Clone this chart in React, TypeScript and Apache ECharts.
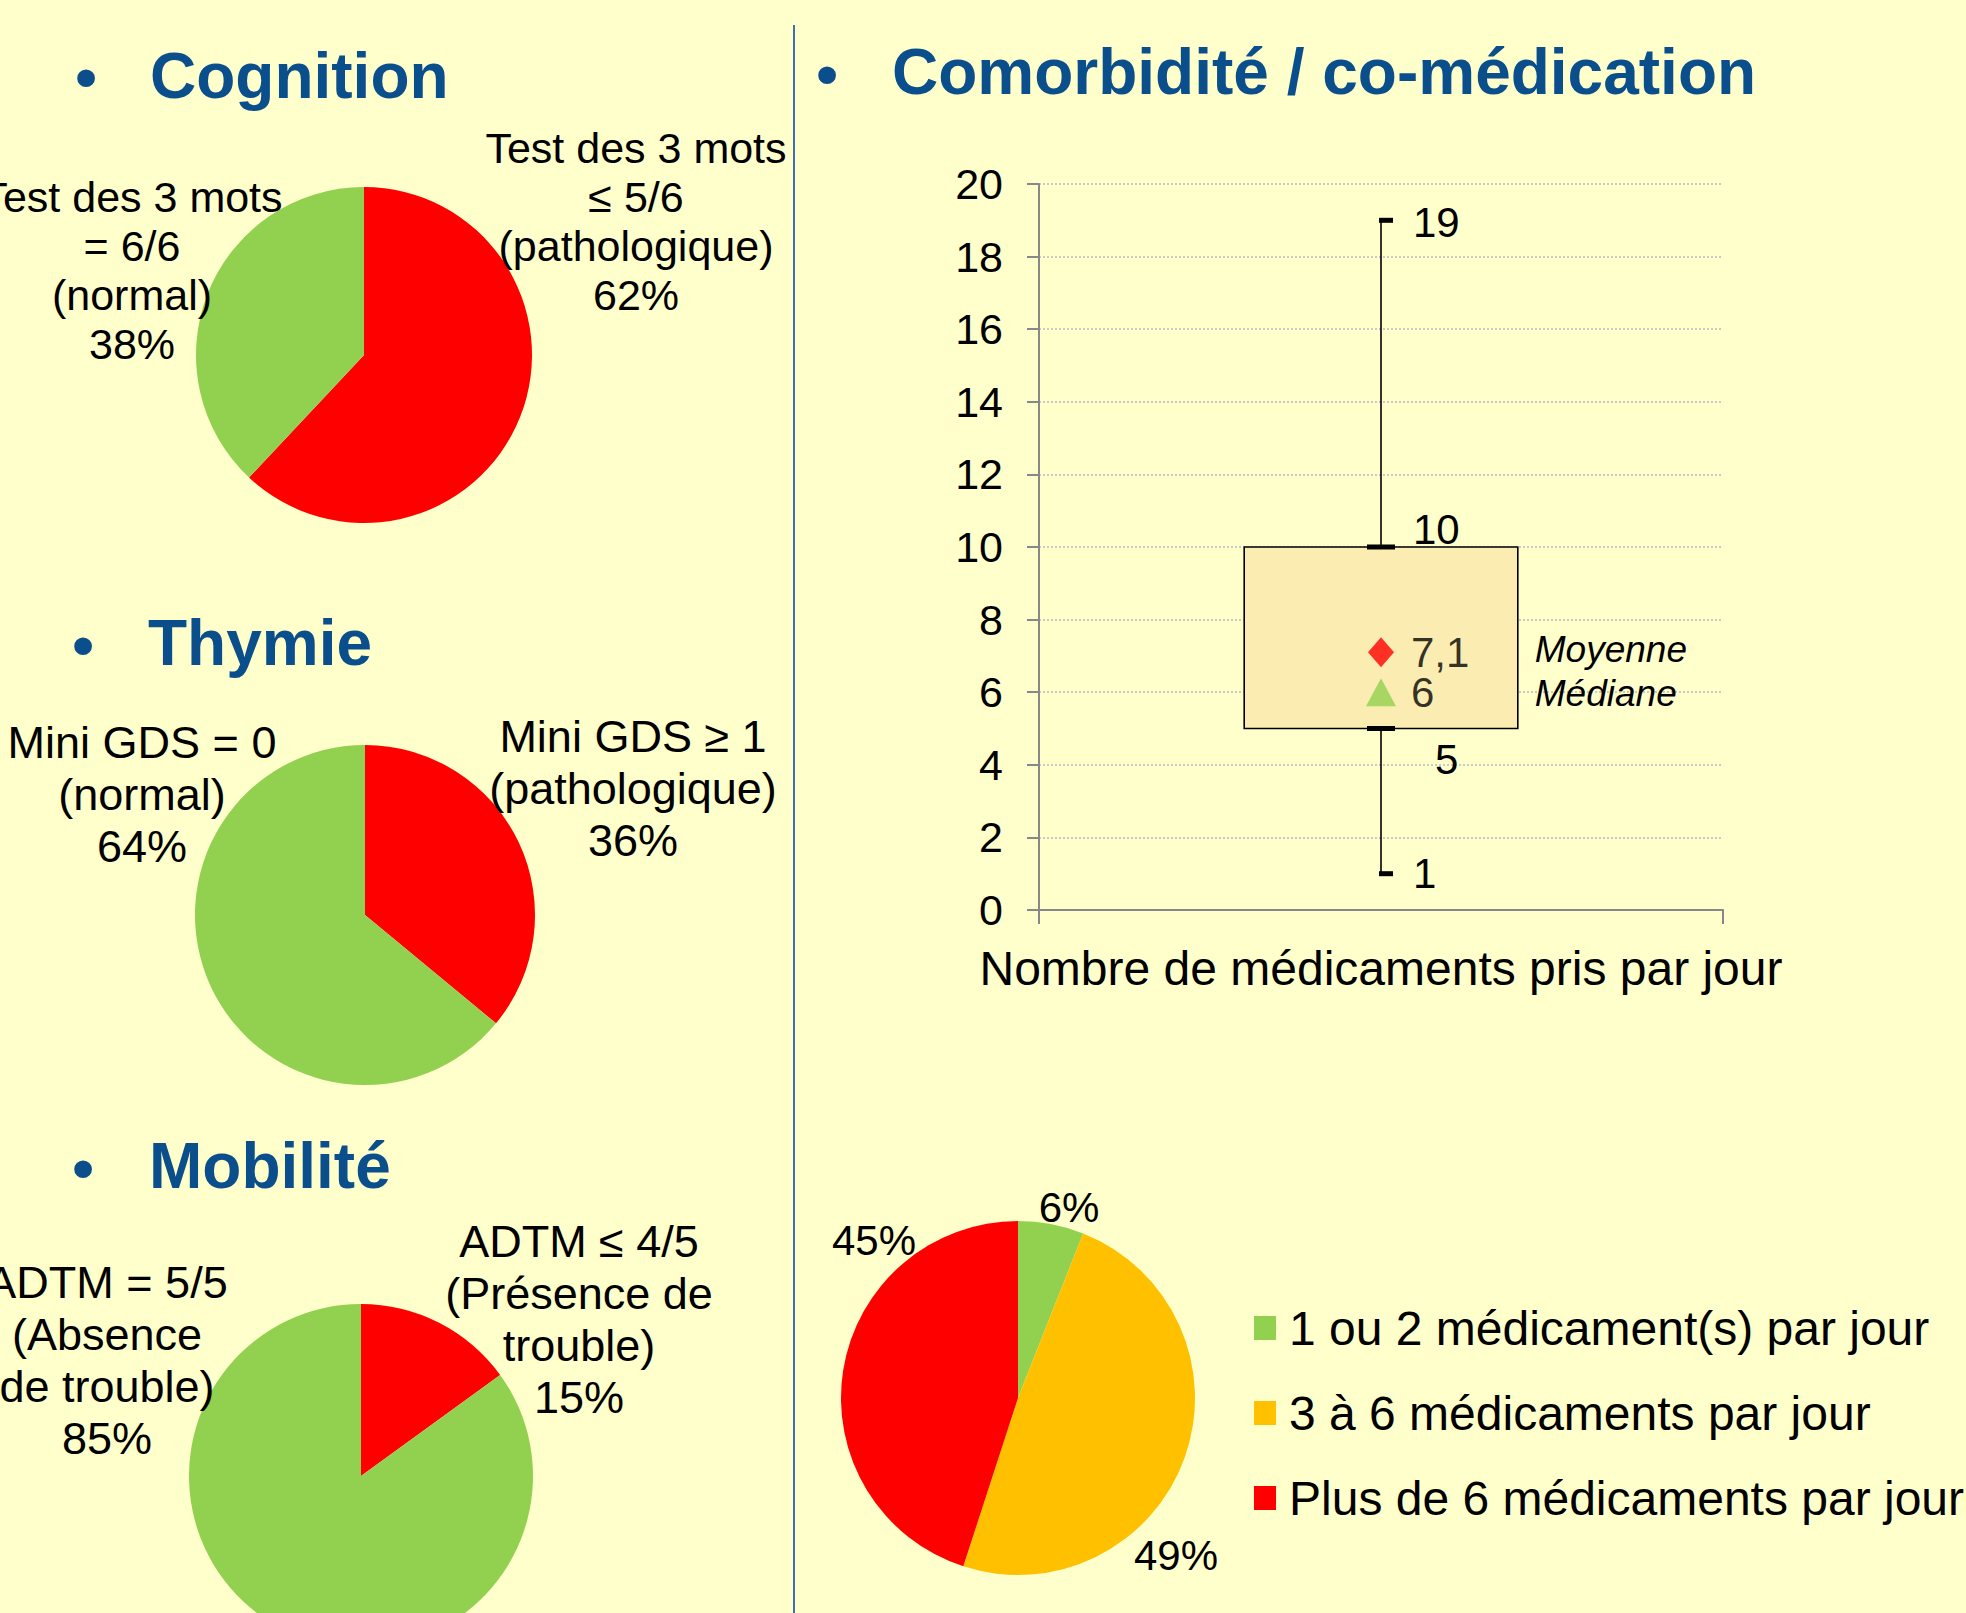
import React, { useEffect, useRef } from 'react';
import * as echarts from 'echarts';

const FONT = '"Liberation Sans", Arial, Helvetica, sans-serif';
const RED = '#FF0000';
const GREEN = '#92D050';
const ORANGE = '#FFC000';
const TITLE_BLUE = '#0A4E8C';

// ---- Data ----
const cognitionNames = ['Test des 3 mots\n≤ 5/6\n(pathologique)', 'Test des 3 mots\n= 6/6\n(normal)'];
const cognitionValues = [62, 38];
const thymieNames = ['Mini GDS ≥ 1\n(pathologique)', 'Mini GDS = 0\n(normal)'];
const thymieValues = [36, 64];
const mobiliteNames = ['ADTM ≤ 4/5\n(Présence de\ntrouble)', 'ADTM = 5/5\n(Absence\nde trouble)'];
const mobiliteValues = [15, 85];
const medNames = ['1 ou 2 médicament(s) par jour', '3 à 6 médicaments par jour', 'Plus de 6 médicaments par jour'];
const medValues = [6, 49, 45];

const boxCategory = ['Nombre de médicaments pris par jour'];
// min, Q1, median, Q3, max, mean
const boxStats = [1, 5, 6, 10, 19, 7.1];
const meanValue = 7.1;
const medianValue = 6;
const yMin = 0;
const yMax = 20;
const yInterval = 2;

const titles = ['Cognition', 'Thymie', 'Mobilité', 'Comorbidité / co-médication'];

// ---- Layout (pixels) ----
const titlePos = [
  [150, 76], [148, 643], [149, 1166], [892, 72],
];
const bulletPos = [
  [86, 76], [83, 644], [83, 1167], [827, 73],
];
const cognitionLabelPos = [[636, 221], [132, 270]];
const thymieLabelPos = [[633, 788], [142, 794]];
const mobiliteLabelPos = [[579, 1319], [107, 1360]];
const medLabelPos = [[1069, 1207], [1176, 1555], [874, 1240]];

const fmt = (v: number) => String(v).replace('.', ',');

function pieSeries(
  names: string[], values: number[], colors: string[], center: number[], radius: number,
  labelPos: number[][], fontSize: number, lineHeight: number, withName: boolean,
) {
  return {
    type: 'pie',
    center,
    radius,
    startAngle: 90,
    clockwise: true,
    avoidLabelOverlap: false,
    silent: true,
    data: names.map((n, i) => ({ name: n, value: values[i], itemStyle: { color: colors[i] } })),
    label: {
      show: true,
      position: 'outside',
      formatter: (p: any) => (withName ? `${p.name}\n${p.value}%` : `${p.value}%`),
      fontFamily: FONT,
      fontSize,
      lineHeight,
      color: '#000',
      align: 'center',
    },
    labelLine: { show: false },
    labelLayout: (p: any) => ({
      x: labelPos[p.dataIndex][0],
      y: labelPos[p.dataIndex][1],
      align: 'center',
      verticalAlign: 'middle',
    }),
    emphasis: { disabled: true },
  };
}

export default function App() {
  const ref = useRef<HTMLDivElement>(null);

  useEffect(() => {
    if (!ref.current) return;
    const chart = echarts.init(ref.current, null, { renderer: 'svg' });

    const graphics: any[] = [];
    graphics.push({
      type: 'line',
      shape: { x1: 794, y1: 25, x2: 794, y2: 1613 },
      style: { stroke: '#3F6FAE', lineWidth: 2 },
    });
    titles.forEach((t, i) => {
      graphics.push({
        type: 'text',
        x: bulletPos[i][0],
        y: bulletPos[i][1],
        style: {
          text: '•', fontFamily: FONT, fontSize: 62, fontWeight: 'bold', fill: TITLE_BLUE,
          align: 'center', verticalAlign: 'middle',
        },
      });
      graphics.push({
        type: 'text',
        x: titlePos[i][0],
        y: titlePos[i][1],
        style: {
          text: t, fontFamily: FONT, fontSize: 64, fontWeight: 'bold', fill: TITLE_BLUE,
          align: 'left', verticalAlign: 'middle',
        },
      });
    });

    const option: any = {
      animation: false,
      backgroundColor: '#FFFFCC',
      textStyle: { fontFamily: FONT },
      graphic: graphics,
      legend: {
        data: medNames,
        orient: 'vertical',
        left: 1249,
        top: 1298,
        itemWidth: 22,
        itemHeight: 24,
        itemGap: 35,
        icon: 'rect',
        selectedMode: false,
        textStyle: { fontFamily: FONT, fontSize: 48, color: '#000', lineHeight: 50, padding: [0, 0, 0, 8] },
      },
      grid: { left: 1039, top: 184, width: 684, height: 726, containLabel: false },
      xAxis: {
        type: 'category',
        data: boxCategory,
        boundaryGap: true,
        axisLine: { lineStyle: { color: '#888', width: 2 } },
        axisTick: { show: true, length: 14, lineStyle: { color: '#888', width: 2 } },
        axisLabel: { fontFamily: FONT, fontSize: 48, color: '#000', margin: 34 },
        splitLine: { show: false },
      },
      yAxis: {
        type: 'value',
        min: yMin,
        max: yMax,
        interval: yInterval,
        axisLine: { show: true, lineStyle: { color: '#888', width: 2 } },
        axisTick: { show: true, length: 12, lineStyle: { color: '#888', width: 2 } },
        axisLabel: { fontFamily: FONT, fontSize: 43, color: '#000', margin: 36 },
        splitLine: { show: true, lineStyle: { color: '#C9C9C9', type: 'dotted', width: 2 } },
      },
      series: [
        pieSeries(cognitionNames, cognitionValues, [RED, GREEN], [364, 355], 168, cognitionLabelPos, 43, 49, true),
        pieSeries(thymieNames, thymieValues, [RED, GREEN], [365, 915], 170, thymieLabelPos, 45, 52, true),
        pieSeries(mobiliteNames, mobiliteValues, [RED, GREEN], [361, 1476], 172, mobiliteLabelPos, 45, 52, true),
        pieSeries(medNames, medValues, [GREEN, ORANGE, RED], [1018, 1398], 177, medLabelPos, 42, 48, false),
        {
          type: 'custom',
          xAxisIndex: 0,
          yAxisIndex: 0,
          silent: true,
          encode: { x: 0, y: [1, 2, 3, 4, 5] },
          data: [[0, ...boxStats]],
          renderItem: (params: any, api: any) => {
            const cx = api.coord([0, 0])[0];
            const y = (v: number) => api.coord([0, v])[1];
            const band = api.size([1, 0])[0];
            const bw = band * 0.4;
            const mn = api.value(1), q1 = api.value(2), md = api.value(3), q3 = api.value(4), mx = api.value(5), mean = api.value(6);
            const ls = { stroke: '#000', lineWidth: 1.6 };
            const txt = (text: string, x: number, yy: number, extra: any = {}) => ({
              type: 'text', x, y: yy,
              style: { text, fontFamily: FONT, fontSize: 42, fill: '#000', align: 'left', verticalAlign: 'middle', ...extra },
            });
            return {
              type: 'group',
              children: [
                { type: 'line', shape: { x1: cx, y1: y(q3), x2: cx, y2: y(mx) }, style: ls },
                { type: 'line', shape: { x1: cx, y1: y(q1), x2: cx, y2: y(mn) }, style: ls },
                {
                  type: 'rect',
                  shape: { x: cx - bw / 2, y: y(q3), width: bw, height: y(q1) - y(q3) },
                  style: { fill: '#FBEDB1', stroke: '#000', lineWidth: 1.6 },
                },
                { type: 'rect', shape: { x: cx - 2, y: y(mx) - 2.5, width: 14, height: 5 }, style: { fill: '#000' } },
                { type: 'rect', shape: { x: cx - 2, y: y(mn) - 2.5, width: 14, height: 5 }, style: { fill: '#000' } },
                { type: 'rect', shape: { x: cx - 14, y: y(q3) - 2.5, width: 28, height: 5 }, style: { fill: '#000' } },
                { type: 'rect', shape: { x: cx - 14, y: y(q1) - 2.5, width: 28, height: 5 }, style: { fill: '#000' } },
                txt(fmt(mx), cx + 32, y(mx) + 2),
                txt(fmt(q3), cx + 32, y(q3) - 18),
                txt(fmt(q1), cx + 54, y(q1) + 31),
                txt(fmt(mn), cx + 32, y(mn)),
                txt('Moyenne', cx + bw / 2 + 17, y(mean) - 3, { fontSize: 37, fontStyle: 'italic', lineHeight: 36 }),
                txt('Médiane', cx + bw / 2 + 17, y(md) + 1, { fontSize: 37, fontStyle: 'italic', lineHeight: 36 }),
              ],
            };
          },
          z: 2,
        },
        {
          type: 'scatter',
          xAxisIndex: 0,
          yAxisIndex: 0,
          silent: true,
          symbol: 'diamond',
          symbolSize: [26, 30],
          itemStyle: { color: RED },
          data: [[0, meanValue]],
          label: {
            show: true, position: 'right', distance: 17, fontFamily: FONT, fontSize: 42, color: '#000',
            lineHeight: 36,
            formatter: (p: any) => fmt(p.value[1]),
          },
          z: 3,
        },
        {
          type: 'scatter',
          xAxisIndex: 0,
          yAxisIndex: 0,
          silent: true,
          symbol: 'triangle',
          symbolSize: [30, 28],
          itemStyle: { color: GREEN },
          data: [[0, medianValue]],
          label: {
            show: true, position: 'right', distance: 15, fontFamily: FONT, fontSize: 42, color: '#000',
            lineHeight: 36,
            formatter: (p: any) => fmt(p.value[1]),
          },
          z: 3,
        },
      ],
    };

    chart.setOption(option);
    return () => chart.dispose();
  }, []);

  return (
    <div
      ref={ref}
      style={{ position: 'fixed', left: 0, top: 0, width: 1966, height: 1613, overflow: 'hidden' }}
    />
  );
}
